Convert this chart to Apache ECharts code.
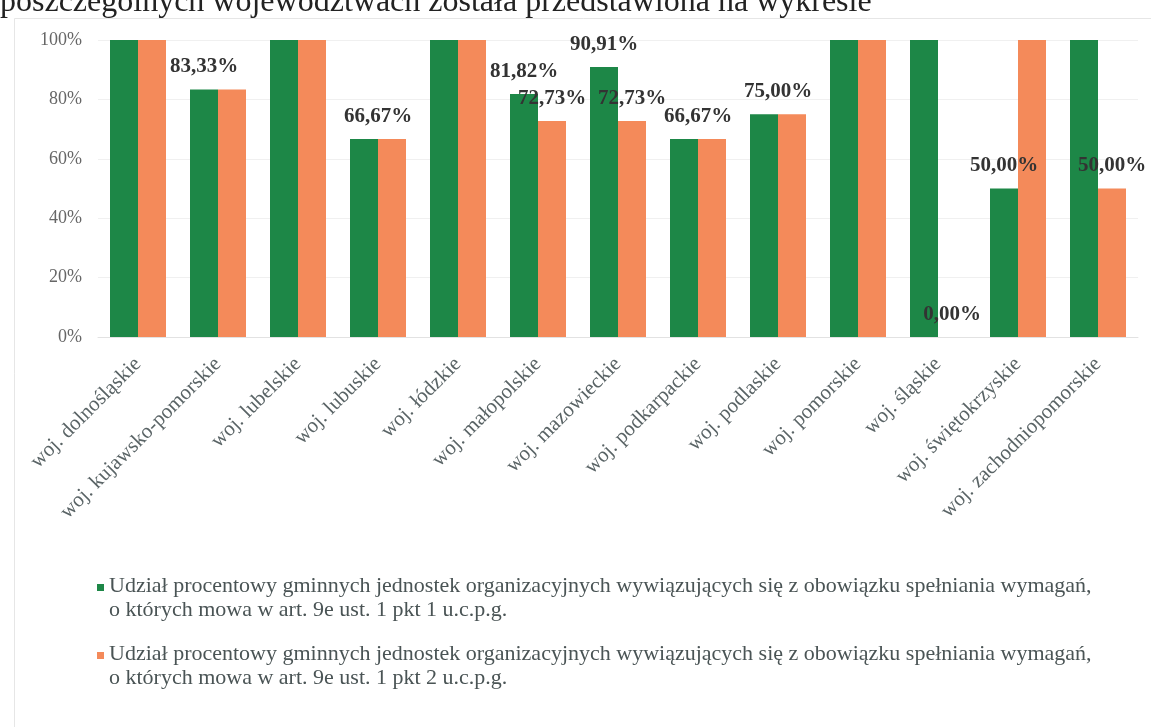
<!DOCTYPE html>
<html>
<head>
<meta charset="utf-8">
<script src="https://cdn.jsdelivr.net/npm/echarts@6/dist/echarts.min.js"></script>
<style>
  html, body { margin: 0; padding: 0; background: #fff; }
  #chart { width: 1151px; height: 727px; }
</style>
</head>
<body>
<div id="chart"></div>
<script>
// Województwa i udziały (%)
const categories = [
    'woj. dolnośląskie', 'woj. kujawsko-pomorskie', 'woj. lubelskie', 'woj. lubuskie',
    'woj. łódzkie', 'woj. małopolskie', 'woj. mazowieckie', 'woj. podkarpackie',
    'woj. podlaskie', 'woj. pomorskie', 'woj. śląskie', 'woj. świętokrzyskie',
    'woj. zachodniopomorskie'
];
const pkt1Values = [100, 83.33, 100, 66.67, 100, 81.82, 90.91, 66.67, 75, 100, 100, 50, 100];
const pkt2Values = [100, 83.33, 100, 66.67, 100, 72.73, 72.73, 66.67, 75, 100, 0, 100, 50];
// które etykiety widać na oryginale
const pkt1Labels = [false, true, false, true, false, true, true, true, true, false, false, true, false];
const pkt2Labels = [false, false, false, false, false, true, true, false, false, false, true, false, true];
const yTicks = [0, 20, 40, 60, 80, 100];

const seriesNames = [
    'Udział procentowy gminnych jednostek organizacyjnych wywiązujących się z obowiązku spełniania wymagań,\no których mowa w art. 9e ust. 1 pkt 1 u.c.p.g.',
    'Udział procentowy gminnych jednostek organizacyjnych wywiązujących się z obowiązku spełniania wymagań,\no których mowa w art. 9e ust. 1 pkt 2 u.c.p.g.'
];

const GREEN = '#1d8747';
const ORANGE = '#f48a5a';
const SERIF = '"Liberation Serif", "Times New Roman", serif';

const fmtPct = v => v.toFixed(2).replace('.', ',') + '%';

// gdy oba słupki są równe, etykieta stoi nad środkiem kategorii
const centered = new Set([3, 7, 8]);

function buildData(values, shown, isGreen) {
    return values.map((v, i) => ({
        value: v,
        label: {
            show: shown[i],
            offset: isGreen && centered.has(i) ? [14, 0] : [0, 0]
        }
    }));
}

const chart = echarts.init(document.getElementById('chart'));
chart.setOption({
    animation: false,
    backgroundColor: '#fff',
    graphic: [
        {
            // ucięta linia tekstu dokumentu nad wykresem
            type: 'text', silent: true,
            style: {
                x: 0, y: 19, text: 'poszczególnych województwach została przedstawiona na wykresie',
                font: '32px ' + SERIF, fill: '#222', verticalAlign: 'bottom'
            }
        },
        {
            type: 'rect', left: 12, top: 16, silent: true,
            shape: { width: 1160, height: 760 },
            style: { fill: 'none', stroke: '#e6e6e6', lineWidth: 1 }
        }
    ],
    grid: { left: 98, right: 13, top: 40, bottom: 390, containLabel: false },
    legend: {
        orient: 'vertical',
        left: 92,
        top: 569,
        itemGap: 20,
        itemWidth: 7,
        itemHeight: 34,
        icon: 'path://M0,6h7v7h-7z M0,33.9h0.05v0.05h-0.05z',
        textStyle: { fontFamily: SERIF, fontSize: 22, color: '#4a5455', lineHeight: 24 },
        data: seriesNames
    },
    xAxis: {
        type: 'category',
        data: categories,
        axisTick: { show: false },
        axisLine: { lineStyle: { color: '#e2e2e2' } },
        axisLabel: {
            rotate: 45,
            interval: 0,
            margin: 24,
            fontFamily: SERIF,
            fontSize: 21,
            color: '#5a6466'
        }
    },
    yAxis: {
        type: 'value',
        min: yTicks[0],
        max: yTicks[yTicks.length - 1],
        interval: 20,
        axisLine: { show: false },
        axisTick: { show: false },
        splitLine: { lineStyle: { color: '#f0f0f0' } },
        axisLabel: {
            margin: 16,
            fontFamily: SERIF,
            fontSize: 18,
            color: '#666',
            formatter: '{value}%'
        }
    },
    series: [
        {
            name: seriesNames[0],
            type: 'bar',
            barGap: '0%',
            barCategoryGap: '30%',
            itemStyle: { color: GREEN },
            label: {
                position: 'top', distance: 12,
                fontFamily: SERIF, fontSize: 21, fontWeight: 'bold', color: '#333',
                formatter: p => fmtPct(p.value)
            },
            data: buildData(pkt1Values, pkt1Labels, true)
        },
        {
            name: seriesNames[1],
            type: 'bar',
            itemStyle: { color: ORANGE },
            label: {
                position: 'top', distance: 12,
                fontFamily: SERIF, fontSize: 21, fontWeight: 'bold', color: '#333',
                formatter: p => fmtPct(p.value)
            },
            data: buildData(pkt2Values, pkt2Labels, false)
        }
    ]
});
</script>
</body>
</html>
